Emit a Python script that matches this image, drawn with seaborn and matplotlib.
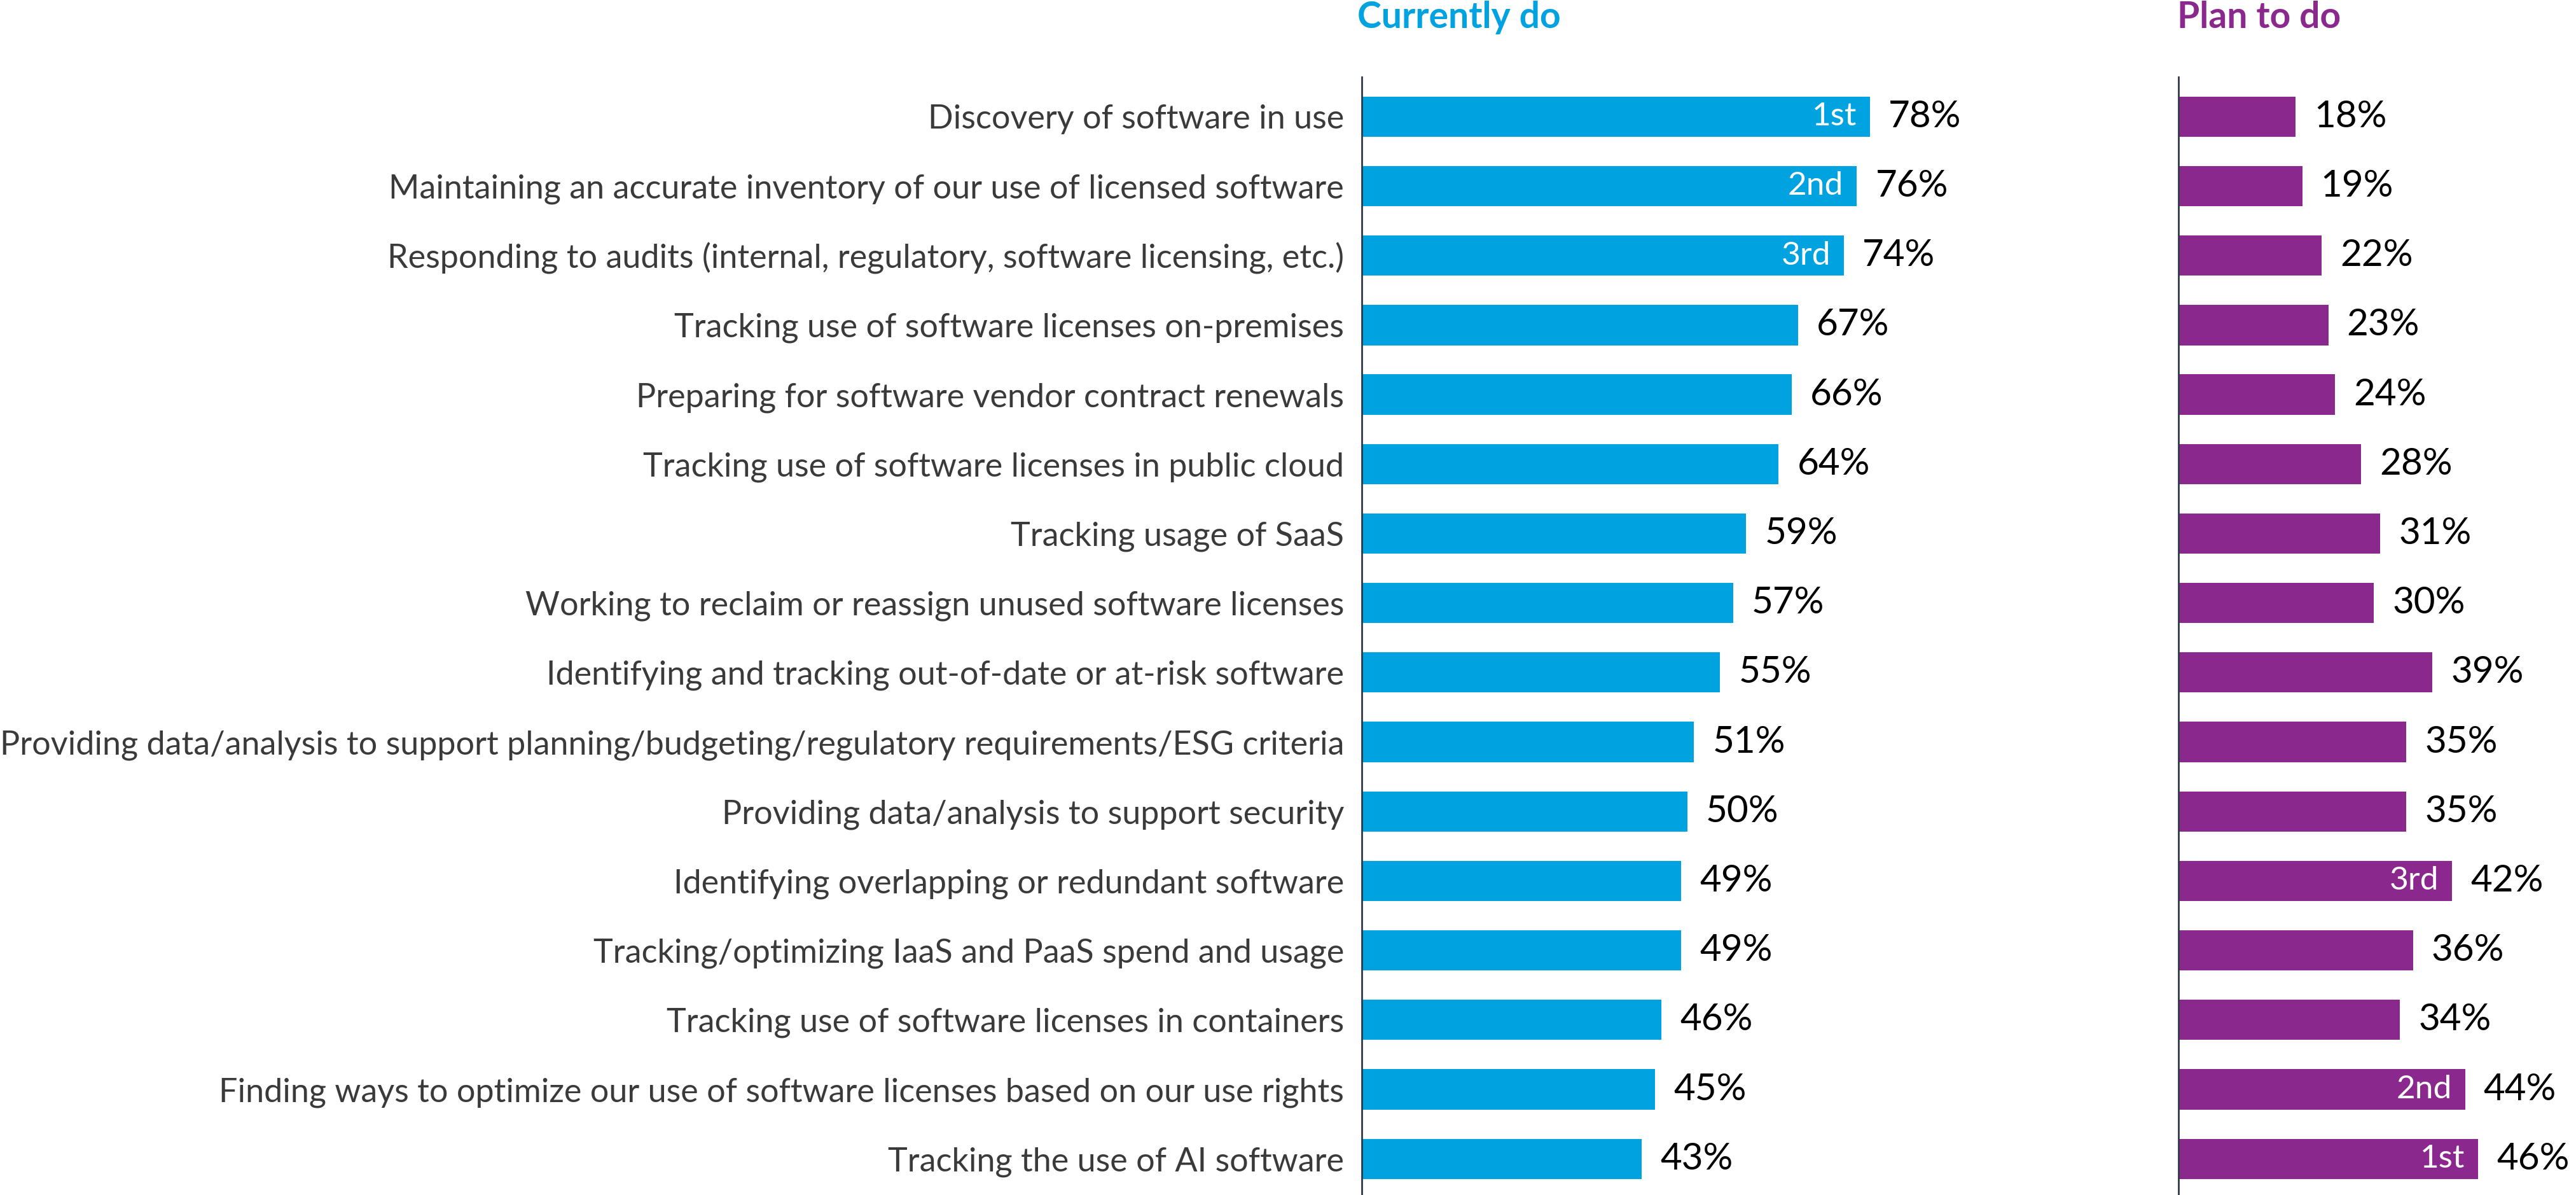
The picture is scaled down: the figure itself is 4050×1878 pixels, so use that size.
import matplotlib
matplotlib.use("Agg")
import matplotlib.pyplot as plt
import seaborn as sns
import pandas as pd

categories = [
    "Discovery of software in use",
    "Maintaining an accurate inventory of our use of licensed software",
    "Responding to audits (internal, regulatory, software licensing, etc.)",
    "Tracking use of software licenses on-premises",
    "Preparing for software vendor contract renewals",
    "Tracking use of software licenses in public cloud",
    "Tracking usage of SaaS",
    "Working to reclaim or reassign unused software licenses",
    "Identifying and tracking out-of-date or at-risk software",
    "Providing data/analysis to support planning/budgeting/regulatory requirements/ESG criteria",
    "Providing data/analysis to support security",
    "Identifying overlapping or redundant software",
    "Tracking/optimizing IaaS and PaaS spend and usage",
    "Tracking use of software licenses in containers",
    "Finding ways to optimize our use of software licenses based on our use rights",
    "Tracking the use of AI software",
]
currently_do = [78, 76, 74, 67, 66, 64, 59, 57, 55, 51, 50, 49, 49, 46, 45, 43]
plan_to_do = [18, 19, 22, 23, 24, 28, 31, 30, 39, 35, 35, 42, 36, 34, 44, 46]
current_ranks = ["1st", "2nd", "3rd"] + [""] * 13
plan_ranks = [""] * 11 + ["3rd", "", "", "2nd", "1st"]
titles = ["Currently do", "Plan to do"]

BLUE = "#00A3E0"
PURPLE = "#8B288E"
LABEL_GRAY = "#3A3A3A"
AXIS_COLOR = "#2E3A48"

sns.set_theme(style="white")
plt.rcParams["font.family"] = ["Lato", "DejaVu Sans"]

df = pd.DataFrame({"category": categories, "current": currently_do, "plan": plan_to_do})

W, H = 4050, 1878
fig = plt.figure(figsize=(W / 100, H / 100), dpi=100)
PX_PER_PCT = 10.24
ax_top = 121
ax_h = H - ax_top

def make_axes(left_px, right_px):
    return fig.add_axes([left_px / W, 0, (right_px - left_px) / W, ax_h / H])

ax1 = make_axes(2141, 3300)
ax2 = make_axes(3425, 4050)

ylim = (15.52, -0.57)
for ax, col, color, ranks, right_px, left_px in [
    (ax1, "current", BLUE, current_ranks, 3300, 2141),
    (ax2, "plan", PURPLE, plan_ranks, 4050, 3425),
]:
    sns.barplot(data=df, y="category", x=col, color=color, orient="h",
                width=0.58, ax=ax, saturation=1, edgecolor="none")
    ax.set_xlim(0, (right_px - left_px) / PX_PER_PCT)
    ax.set_ylim(*ylim)
    ax.set_xlabel("")
    ax.set_ylabel("")
    ax.set_xticks([])
    for s in ["top", "right", "bottom"]:
        ax.spines[s].set_visible(False)
    ax.spines["left"].set_color(AXIS_COLOR)
    ax.spines["left"].set_linewidth(2)
    vals = df[col].tolist()
    for i, (v, r) in enumerate(zip(vals, ranks)):
        ax.annotate(f"{v}%", (v, i), xytext=(21, 0), textcoords="offset points",
                    ha="left", va="center", fontsize=42, color="black")
        if r:
            ax.annotate(r, (v, i), xytext=(-15, 0), textcoords="offset points",
                        ha="right", va="center", fontsize=37, color="white")

ax1.tick_params(axis="y", length=0, pad=20, labelsize=37.5, labelcolor=LABEL_GRAY)
ax2.set_yticklabels([])
ax2.tick_params(axis="y", length=0)

fig.text(2134 / W, 1 - 28 / H, titles[0], color=BLUE, fontsize=41,
         fontweight="bold", ha="left", va="center")
fig.text(3423 / W, 1 - 28 / H, titles[1], color=PURPLE, fontsize=41,
         fontweight="bold", ha="left", va="center")

fig.savefig("out.png", dpi=100)
